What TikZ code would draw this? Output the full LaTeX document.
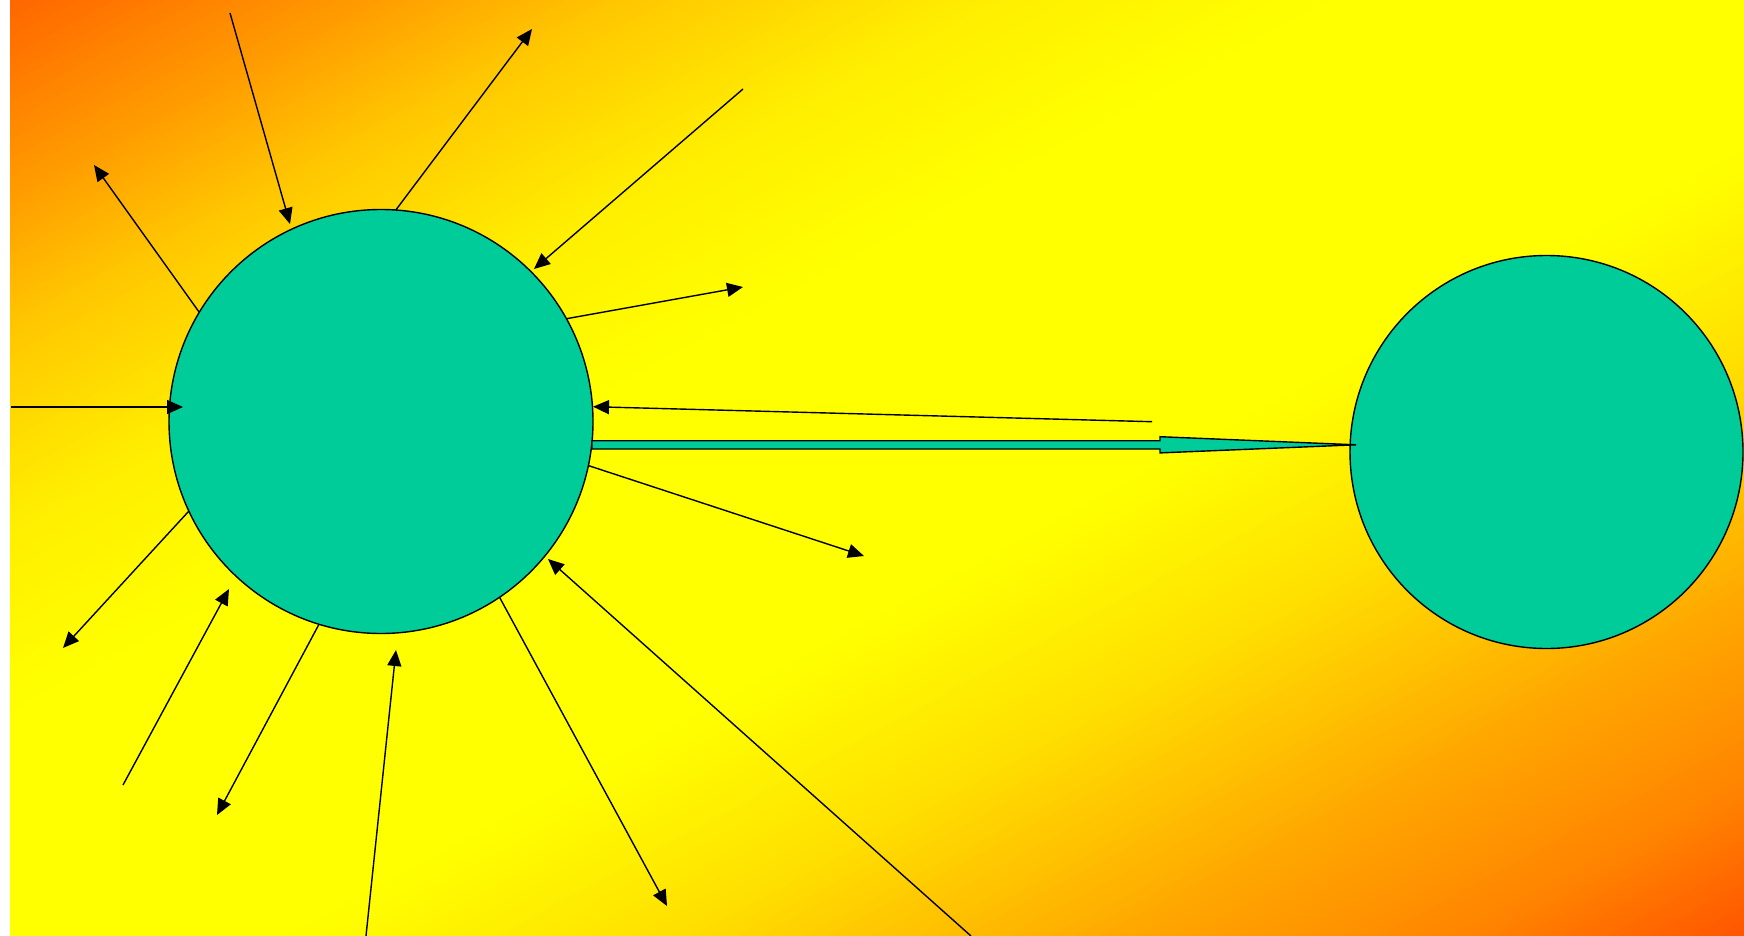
\documentclass[tikz,border=0pt]{standalone}
\usetikzlibrary{arrows.meta}
\definecolor{g0}{HTML}{FF6600}
\definecolor{g1}{HTML}{FF9A00}
\definecolor{g2}{HTML}{FFC800}
\definecolor{g3}{HTML}{FFEE00}
\definecolor{g4}{HTML}{FFFF00}
\definecolor{g5}{HTML}{FFFF00}
\definecolor{g6}{HTML}{FFE000}
\definecolor{g7}{HTML}{FFA800}
\definecolor{g8}{HTML}{FF8400}
\definecolor{g9}{HTML}{FF5500}
\definecolor{teal1}{HTML}{00CC99}
\tikzset{
  circ/.style={circle, draw=black, line width=1.4pt, fill=teal1, inner sep=0pt, outer sep=0pt},
  arr/.style={draw=black, line width=1.4pt, -{Triangle[length=16pt,width=14pt]}},
  blockarrow/.style={draw=black, line width=1.4pt, fill=teal1, line join=miter}
}
\begin{document}
\begin{tikzpicture}[x=1pt,y=-1pt]
\useasboundingbox (0,0) rectangle (1744,936);
\fill[white] (0,0) rectangle (1744,936);
% diagonal gradient background
\begin{scope}
\clip (10,0) rectangle (1744,936);
\foreach \ta/\tb/\ca/\cb in {0/0.1/g0/g1, 0.1/0.18/g1/g2, 0.18/0.28/g2/g3, 0.28/0.38/g3/g4, 0.38/0.58/g4/g5, 0.58/0.69/g5/g6, 0.69/0.82/g6/g7, 0.82/0.92/g7/g8, 0.92/1.0/g8/g9} {
  \foreach \k in {0,...,19} {
    \pgfmathsetmacro\tone{\ta+(\tb-\ta)*\k/20}
    \pgfmathsetmacro\ttwo{\ta+(\tb-\ta)*(\k+1.6)/20}
    \pgfmathsetmacro\pct{100*(\k+0.5)/20}
    \fill[\cb!\pct!\ca] ({10+(2*\tone+1)*1734},-936) -- ({10+(2*\ttwo+1)*1734},-936)
       -- ({10+(2*\ttwo-2)*1734},1872) -- ({10+(2*\tone-2)*1734},1872) -- cycle;
  }
}
\end{scope}
% circles
\node[circ, minimum size=424pt] (c1) at (381,421.5) {};
\node[circ, minimum size=393pt] (c2) at (1546.5,452) {};
% free ends
\coordinate (a1s) at (230,13);   \coordinate (a1e) at (290,224);
\coordinate (a2e) at (94,165);
\coordinate (a3e) at (532,29);
\coordinate (a4s) at (743,89);   \coordinate (a4e) at (534,269);
\coordinate (a5e) at (743,287);
\coordinate (a6s) at (11,407);   \coordinate (a6e) at (183,407);
\coordinate (a7s) at (1152,421.7); \coordinate (a7e) at (593,406.7);
\coordinate (a9e) at (864,556);
\coordinate (a10e) at (63,648);
\coordinate (a11s) at (123,785); \coordinate (a11e) at (229,589);
\coordinate (a12e) at (217,815);
\coordinate (a13s) at (366,936); \coordinate (a13e) at (396,650);
\coordinate (a14e) at (667,906);
\coordinate (a15s) at (971,936); \coordinate (a15e) at (548,559);
% connectors
\draw[arr] (a1s) -- (a1e);
\draw[arr] (c1.149.6) -- (a2e);
\draw[arr] (c1.86) -- (a3e);
\draw[arr] (a4s) -- (a4e);
\draw[arr] (c1.29.8) -- (a5e);
\draw[arr] (a6s) -- (a6e);
\draw[arr] (a7s) -- (a7e);
\draw[arr] (c1.-12.1) -- (a9e);
\draw[arr] (c1.205) -- (a10e);
\draw[arr] (a11s) -- (a11e);
\draw[arr] (c1.253) -- (a12e);
\draw[arr] (a13s) -- (a13e);
\draw[arr] (c1.-56.3) -- (a14e);
\draw[arr] (a15s) -- (a15e);
% block arrow from c1 to c2
\coordinate (b0) at (592,440.7);
\coordinate (b1) at (1160,440.7);
\coordinate (b2) at (1160,436.7);
\coordinate (btip) at (1356,444.8);
\coordinate (b3) at (1160,452.9);
\coordinate (b4) at (1160,449);
\coordinate (b5) at (592,449);
\draw[blockarrow] (b0) -- (b1) -- (b2) -- (btip) -- (b3) -- (b4) -- (b5) -- cycle;
\end{tikzpicture}
\end{document}
